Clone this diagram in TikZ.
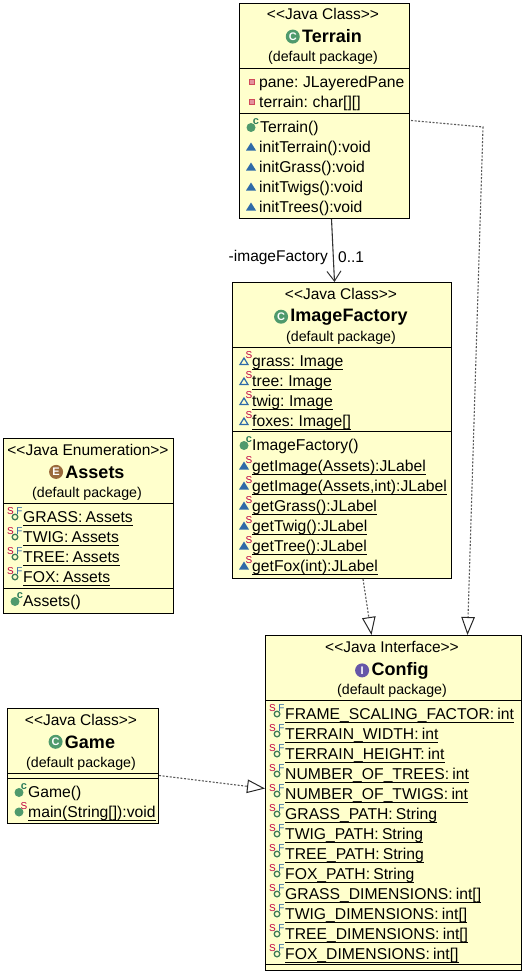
\documentclass[tikz,border=0pt]{standalone}
\usepackage{fontspec}
\setmainfont{Liberation Sans}
\usetikzlibrary{arrows.meta}
\usetikzlibrary{positioning}
\definecolor{boxyellow}{HTML}{FFFFCC}
\definecolor{classgreen}{HTML}{4F9A6C}
\definecolor{enumbrown}{HTML}{9A6A3C}
\definecolor{ifacepurple}{HTML}{6657A8}
\definecolor{pkgblue}{HTML}{2F6BA8}
\definecolor{privred}{HTML}{D04A5A}
\definecolor{statred}{HTML}{C00040}
\definecolor{finalgreen}{HTML}{2E7D5A}
\newcommand{\ulrow}[1]{\setbox0=\hbox{#1}\copy0\kern-\wd0\vrule width\wd0 height-2.6pt depth3.6pt}
\tikzset{
  umlbox/.style={draw=black,fill=boxyellow,line width=1pt,anchor=north west,inner sep=0pt},
  divider/.style={line width=.9pt},
  stereo/.style={inner sep=0pt,anchor=base,font=\fontsize{15.5}{18}\selectfont},
  classname/.style={inner sep=0pt,anchor=base,font=\fontsize{18}{20}\selectfont\bfseries},
  pkgname/.style={inner sep=0pt,anchor=base,font=\fontsize{14.2}{17}\selectfont},
  rowtext/.style={inner sep=0pt,anchor=base west,font=\fontsize{15.7}{18}\selectfont,execute at begin node={\spaceskip=3.2pt\relax}},
  linklabel/.style={inner sep=0pt,font=\fontsize{15.5}{18}\selectfont},
  titleicon/.style={circle,inner sep=0pt,minimum size=14pt,text=white,font=\fontsize{11}{11}\selectfont\bfseries},
  supscript/.style={inner sep=0pt,font=\fontsize{10}{10}\selectfont},
  realize/.style={dash pattern=on 2pt off 1.6pt,line width=1.1pt,draw=black!65,-{Triangle[open,length=18pt,width=13.5pt,black!85,line width=1pt]}},
  privfield/.pic={\filldraw[draw=privred,fill=privred!60,line width=1pt] (-2.2,-2.2) rectangle (2.2,2.2);},
  pkgmethod/.pic={\fill[pkgblue] (-5,3.5) -- (0,-4.5) -- (5,3.5) -- cycle;},
  pubctor/.pic={\fill[classgreen] (0,0.5) circle (4.5pt);
    \node[supscript,text=finalgreen,font=\fontsize{11}{11}\selectfont\bfseries] (ctormark) at (5,-5) {c};},
  pubstatic/.pic={\fill[classgreen] (0,0) circle (4.5pt);
    \node[supscript,text=statred] (staticmark) at (5,-5.5) {S};},
  pkgstatic/.pic={\draw[pkgblue,line width=1.2pt] (-4,3.5) -- (0,-3) -- (4,3.5) -- cycle;
    \node[supscript,text=statred] (staticmark) at (5,-6) {S};},
  constfield/.pic={\draw[classgreen!80!black,line width=1.3pt] (0,0) circle (2.8pt);
    \node[supscript,text=statred] (staticmark) at (-4.5,-6) {S};
    \node[supscript,text=pkgblue] (finalmark) at (4.5,-6) {F};}
}
\begin{document}
\begin{tikzpicture}[x=1pt,y=-1pt]
  \useasboundingbox (0,0) rectangle (525,974);

  % Terrain
  \node[umlbox,minimum width=170pt,minimum height=215pt] (terrain) at (239,3) {};
  \draw[divider] (239,68) -- (409,68);
  \draw[divider] (239,113) -- (409,113);
  \node[stereo] (terrainstereo) at (323,20) {<{}<Java Class>{}>};
  \node[classname] (terrainname) at (332,43) {Terrain};
  \node[titleicon,fill=classgreen,left=2pt of terrainname] (terrainicon) {C};
  \node[pkgname] (terrainpkg) at (323,62) {(default package)};
  \foreach \y/\t in {87/pane: JLayeredPane, 107/terrain: char[][]} {
    \pic at (252,\y-5) {privfield};
    \node[rowtext] (terrainf\y) at (259,\y) {\t};
  }
  \pic at (251,127) {pubctor};
  \node[rowtext] (terrainctor) at (260,132) {Terrain()};
  \foreach \y/\t in {152/initTerrain():void, 172/initGrass():void, 192/initTwigs():void, 212/initTrees():void} {
    \pic at (251,\y-5) {pkgmethod};
    \node[rowtext] (terrainm\y) at (259,\y) {\t};
  }

  % ImageFactory
  \node[umlbox,minimum width=219pt,minimum height=296pt] (imagefactory) at (232,282) {};
  \draw[divider] (232,347) -- (451,347);
  \draw[divider] (232,431) -- (451,431);
  \node[stereo] (imagestereo) at (341,299) {<{}<Java Class>{}>};
  \node[classname] (imagename) at (349,321) {ImageFactory};
  \node[titleicon,fill=classgreen,left=2pt of imagename] (imageicon) {C};
  \node[pkgname] (imagepkg) at (341,341) {(default package)};
  \foreach \y/\t in {366/grass: Image, 386/tree: Image, 406/twig: Image, 426/foxes: Image[]} {
    \pic at (244,\y-5) {pkgstatic};
    \node[rowtext] (imagef\y) at (252,\y) {\ulrow{\t}};
  }
  \pic at (244,445) {pubctor};
  \node[rowtext] (imagector) at (252,450) {ImageFactory()};
  \foreach \y/\t in {471/{getImage(Assets):JLabel}, 491/{getImage(Assets,int):JLabel}, 511/{getGrass():JLabel},
    531/{getTwig():JLabel}, 551/{getTree():JLabel}, 571/{getFox(int):JLabel}} {
    \pic at (244,\y-5) {pkgmethod};
    \node[supscript,text=statred] (imagemark\y) at (249,\y-11) {S};
    \node[rowtext] (imagem\y) at (252,\y) {\ulrow{\t}};
  }

  % Assets
  \node[umlbox,minimum width=170pt,minimum height=175pt] (assets) at (3,438) {};
  \draw[divider] (3,503) -- (173,503);
  \draw[divider] (3,588) -- (173,588);
  \node[stereo] (assetsstereo) at (88,455) {<{}<Java Enumeration>{}>};
  \node[classname] (assetsname) at (95,478) {Assets};
  \node[titleicon,fill=enumbrown,left=2pt of assetsname] (assetsicon) {E};
  \node[pkgname] (assetspkg) at (87,497) {(default package)};
  \foreach \y/\t in {522/GRASS: Assets, 542/TWIG: Assets, 562/TREE: Assets, 582/FOX: Assets} {
    \pic at (15,\y-5) {constfield};
    \node[rowtext] (assetsf\y) at (23,\y) {\ulrow{\t}};
  }
  \pic at (15,601) {pubctor};
  \node[rowtext] (assetsctor) at (23,606) {Assets()};

  % Game
  \node[umlbox,minimum width=151pt,minimum height=115pt] (game) at (7,708) {};
  \draw[divider] (7,773) -- (158,773);
  \draw[divider] (7,778) -- (158,778);
  \node[stereo] (gamestereo) at (81,725) {<{}<Java Class>{}>};
  \node[classname] (gamename) at (90,748) {Game};
  \node[titleicon,fill=classgreen,left=2pt of gamename] (gameicon) {C};
  \node[pkgname] (gamepkg) at (81,767) {(default package)};
  \pic at (19,792) {pubctor};
  \node[rowtext] (gamector) at (28,797) {Game()};
  \pic at (19,812) {pubstatic};
  \node[rowtext] (gamemain) at (28,817) {\ulrow{main(String[]):void}};

  % Config
  \node[umlbox,minimum width=256pt,minimum height=335pt] (config) at (265,635) {};
  \draw[divider] (265,700) -- (521,700);
  \draw[divider] (265,964) -- (521,964);
  \node[stereo] (configstereo) at (392,652) {<{}<Java Interface>{}>};
  \node[classname] (configname) at (400,675) {Config};
  \node[titleicon,fill=ifacepurple,left=2pt of configname] (configicon) {I};
  \node[pkgname] (configpkg) at (392,694) {(default package)};
  \foreach \y/\t in {719/FRAME\_SCALING\_FACTOR: int, 739/TERRAIN\_WIDTH: int, 759/TERRAIN\_HEIGHT: int,
    779/NUMBER\_OF\_TREES: int, 799/NUMBER\_OF\_TWIGS: int, 819/GRASS\_PATH: String, 839/TWIG\_PATH: String,
    859/TREE\_PATH: String, 879/FOX\_PATH: String, 899/GRASS\_DIMENSIONS: int[], 919/TWIG\_DIMENSIONS: int[],
    939/TREE\_DIMENSIONS: int[], 959/FOX\_DIMENSIONS: int[]} {
    \pic at (277,\y-5) {constfield};
    \node[rowtext] (configf\y) at (285,\y) {\ulrow{\t}};
  }

  % links
  \draw[line width=1.1pt,draw=black!80,-{Straight Barb[length=10pt,width=14pt,line width=1pt]}]
    ([xshift=7pt]terrain.south) -- ([xshift=-7.5pt]imagefactory.north);
  \node[linklabel,anchor=east] (factorylabel) at (328,257) {-imageFactory};
  \node[linklabel,anchor=west] (factorymult) at (338,257) {0..1};
  \draw[realize] ([xshift=1pt,yshift=-9.5pt]terrain.east) -- (483,127) -- ([xshift=74pt]config.north);
  \draw[realize] ([xshift=21pt]imagefactory.south) -- ([xshift=-22pt]config.north);
  \draw[realize] ([yshift=-9.5pt]game.east) -- ([yshift=14.5pt]config.west);
\end{tikzpicture}
\end{document}
